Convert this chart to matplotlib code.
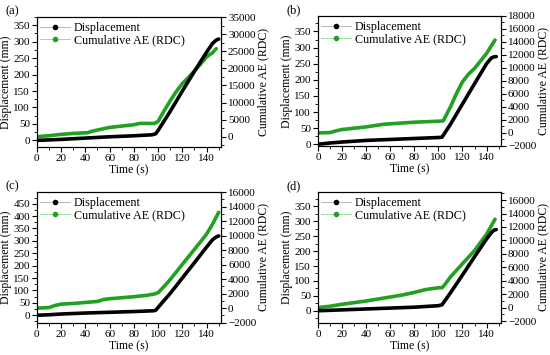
import matplotlib.pyplot as plt
from matplotlib.lines import Line2D
from matplotlib.ticker import MultipleLocator

plt.rcParams['font.family'] = ['Liberation Serif', 'DejaVu Serif']
plt.rcParams['mathtext.fontset'] = 'stix'

GREEN = '#22a022'

# (a) displacement (mm) and cumulative AE (RDC) vs time (s)
t_disp_a = [0, 20, 40, 60, 80, 95, 98, 100, 110, 120, 130, 140, 145, 148, 150]
disp_a = [0, 3, 7, 11, 14, 17, 20, 30, 88, 150, 210, 268, 295, 305, 308]
t_ae_a = [0, 10, 20, 30, 42, 45, 55, 60, 70, 80, 85, 97, 100, 105, 110, 115, 120, 125, 130, 135, 140, 145, 148]
ae_a = [0, 290, 680, 970, 1170, 1560, 2330, 2720, 3110, 3500, 3890, 3890, 4470, 7580, 10500,
        13200, 15550, 17300, 19250, 21200, 23330, 24600, 25760]

# (b)
t_disp_b = [0, 10, 20, 40, 60, 80, 100, 103, 110, 120, 130, 140, 144, 146, 148]
disp_b = [0, 4, 7, 12, 15, 18, 21, 22, 62, 125, 188, 250, 268, 271, 272]
t_ae_b = [0, 10, 15, 20, 40, 55, 80, 100, 104, 110, 115, 120, 125, 130, 140, 147]
ae_b = [0, 50, 310, 520, 925, 1340, 1650, 1800, 1850, 4000, 6070, 7870, 9050, 9930, 12240, 14300]

# (c)
t_disp_c = [0, 10, 20, 40, 60, 80, 96, 98, 105, 110, 120, 130, 140, 145, 148, 150]
disp_c = [0, 2, 5, 9, 12, 15, 18, 20, 60, 88, 150, 212, 275, 305, 316, 320]
t_ae_c = [0, 10, 15, 20, 30, 50, 55, 60, 80, 90, 97, 100, 105, 110, 120, 130, 140, 145, 150]
ae_c = [0, 90, 370, 560, 650, 930, 1200, 1300, 1580, 1760, 1950, 2130, 3000, 3940, 6030,
        8100, 10200, 11600, 13200]

# (d)
t_disp_d = [0, 20, 40, 60, 80, 100, 103, 110, 120, 130, 140, 144, 146, 148]
disp_d = [0, 3, 6, 9, 12, 17, 20, 60, 120, 181, 241, 262, 270, 272]
t_ae_d = [0, 10, 20, 40, 50, 60, 70, 80, 90, 100, 103, 105, 110, 120, 130, 140, 147]
ae_d = [0, 200, 490, 980, 1280, 1570, 1870, 2260, 2700, 2950, 2950, 3340, 4560, 6530,
        8490, 10940, 13150]

panels = [
    ('(a)', [0.067, 0.586, 0.335, 0.366], t_disp_a, disp_a, t_ae_a, ae_a,
     (-20, 375), range(0, 351, 50), (-3000, 35000), range(0, 35001, 5000)),
    ('(b)', [0.578, 0.589, 0.333, 0.366], t_disp_b, disp_b, t_ae_b, ae_b,
     (-5, 398), range(0, 351, 50), (-2000, 18000), range(-2000, 18001, 2000)),
    ('(c)', [0.067, 0.091, 0.335, 0.368], t_disp_c, disp_c, t_ae_c, ae_c,
     (-30, 497), range(0, 451, 50), (-2000, 16000), range(-2000, 16001, 2000)),
    ('(d)', [0.578, 0.091, 0.333, 0.368], t_disp_d, disp_d, t_ae_d, ae_d,
     (-40, 398), range(0, 351, 50), (-2250, 17200), range(-2000, 16001, 2000)),
]

fig = plt.figure(figsize=(5.5, 3.55), dpi=100)

for label, pos, td, d, ta, ae, ylim_l, yt_l, ylim_r, yt_r in panels:
    ax = fig.add_axes(pos)
    ax2 = ax.twinx()
    ax.plot(td, d, color='black', lw=2.6, solid_capstyle='round', zorder=3)
    ax2.plot(ta, ae, color=GREEN, lw=2.6, solid_capstyle='round')
    ax.set_zorder(ax2.get_zorder() + 1)
    ax.patch.set_visible(False)

    ax.set_xlim(0, 152)
    ax.set_xticks(range(0, 141, 20))
    ax.xaxis.set_minor_locator(MultipleLocator(10))
    ax.set_ylim(*ylim_l)
    ax.set_yticks(list(yt_l))
    ax.yaxis.set_minor_locator(MultipleLocator(25))
    ax2.set_ylim(*ylim_r)
    ax2.set_yticks(list(yt_r))
    step = yt_r[1] - yt_r[0]
    ax2.yaxis.set_minor_locator(MultipleLocator(step / 2))

    for a in (ax, ax2):
        a.tick_params(which='major', direction='out', length=3.5, width=0.8, labelsize=8, pad=1.5)
        a.tick_params(which='minor', direction='out', length=2, width=0.6)
        for s in a.spines.values():
            s.set_linewidth(0.8)

    ax.set_xlabel('Time (s)', fontsize=8.5, labelpad=1)
    ax.set_ylabel('Displacement (mm)', fontsize=8.5, labelpad=1)
    ax2.set_ylabel('Cumulative AE (RDC)', fontsize=8.5, labelpad=1)
    ax.text(-0.17, 1.0, label, transform=ax.transAxes, fontsize=9, va='bottom', ha='left')

    handles = [
        Line2D([], [], color='#999999', lw=0.5, marker='o', ms=3,
               markerfacecolor='black', markeredgecolor='black'),
        Line2D([], [], color='#7fcc7f', lw=0.5, marker='o', ms=3,
               markerfacecolor=GREEN, markeredgecolor=GREEN),
    ]
    ax.legend(handles, ['Displacement', 'Cumulative AE (RDC)'], loc='upper left',
              frameon=False, fontsize=8.7, handlelength=2.5, handletextpad=0.3,
              labelspacing=0.05, borderaxespad=0, borderpad=0.4,
              bbox_to_anchor=(-0.009, 1.0))

fig.savefig('out.png', dpi=100)
